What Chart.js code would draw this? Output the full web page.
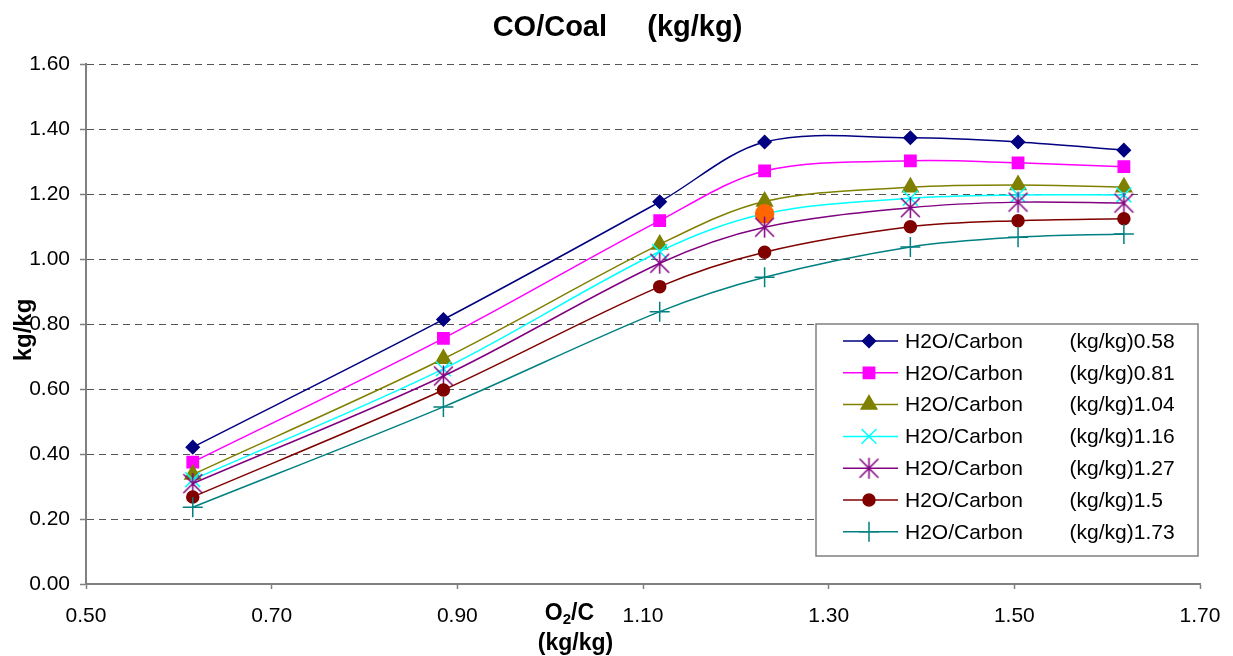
<!DOCTYPE html>
<html>
<head>
<meta charset="utf-8">
<script src="https://cdn.jsdelivr.net/npm/chart.js@4.4.0/dist/chart.umd.min.js"></script>
<style>
  html, body { margin: 0; padding: 0; background: #fff; }
</style>
</head>
<body>
<canvas id="coCoalChart" width="1233" height="656"></canvas>
<script>
// O2/C values (x axis)
const o2c = [0.615, 0.885, 1.118, 1.231, 1.388, 1.504, 1.618];

// CO/Coal for each H2O/Carbon ratio
const h2o058 = [0.421, 0.814, 1.176, 1.360, 1.373, 1.360, 1.335];
const h2o081 = [0.375, 0.756, 1.118, 1.271, 1.302, 1.296, 1.284];
const h2o104 = [0.337, 0.693, 1.045, 1.177, 1.221, 1.228, 1.221];
const h2o116 = [0.321, 0.662, 1.023, 1.139, 1.187, 1.197, 1.197];
const h2o127 = [0.309, 0.640, 0.987, 1.098, 1.158, 1.175, 1.172];
const h2o150 = [0.268, 0.597, 0.915, 1.021, 1.099, 1.118, 1.124];
const h2o173 = [0.236, 0.545, 0.838, 0.944, 1.037, 1.067, 1.077];

const seriesLabels = [
  'H2O/Carbon        (kg/kg)0.58',
  'H2O/Carbon        (kg/kg)0.81',
  'H2O/Carbon        (kg/kg)1.04',
  'H2O/Carbon        (kg/kg)1.16',
  'H2O/Carbon        (kg/kg)1.27',
  'H2O/Carbon        (kg/kg)1.5',
  'H2O/Carbon        (kg/kg)1.73'
];
const chartTitle = 'CO/Coal     (kg/kg)';
const yTitle = 'kg/kg';

const FONT = "'Liberation Sans', Arial, sans-serif";

// excel style asterisk marker (X plus a vertical bar)
function asterisk(color, r) {
  const c = document.createElement('canvas');
  const s = Math.ceil(r * 2 + 4);
  c.width = c.height = s;
  const g = c.getContext('2d');
  const m = s / 2, d = r * 0.9;
  g.strokeStyle = color;
  g.lineWidth = 1.5;
  g.beginPath();
  g.moveTo(m - d, m - d); g.lineTo(m + d, m + d);
  g.moveTo(m + d, m - d); g.lineTo(m - d, m + d);
  g.moveTo(m, m - r); g.lineTo(m, m + r);
  g.stroke();
  return c;
}

const starImg = asterisk('#800080', 10.5);

const series = [
  { data: h2o058, color: '#000080', style: 'rectRot', radius: 6.5 },
  { data: h2o081, color: '#FF00FF', style: 'rect', radius: 8 },
  { data: h2o104, color: '#808000', style: 'triangle', radius: 9 },
  { data: h2o116, color: '#00FFFF', style: 'crossRot', radius: 10.5 },
  { data: h2o127, color: '#800080', style: starImg, radius: 10 },
  { data: h2o150, color: '#800000', style: 'circle', radius: 6 },
  { data: h2o173, color: '#008080', style: 'cross', radius: 10 }
];

// one highlighted point in the 1.16 series
const highlightSeries = 3, highlightIndex = 3, highlightColor = '#FF6600';

const datasets = series.map((s, i) => {
  const n = s.data.length;
  const isHi = k => i === highlightSeries && k === highlightIndex;
  return {
    label: seriesLabels[i],
    data: s.data.map((v, k) => ({ x: o2c[k], y: v })),
    borderColor: s.color,
    backgroundColor: s.color,
    borderWidth: 1.5,
    tension: 0.33,
    order: series.length - i,
    pointStyle: Array.from({ length: n }, (_, k) => isHi(k) ? 'circle' : s.style),
    pointRadius: Array.from({ length: n }, (_, k) => isHi(k) ? 9 : s.radius),
    pointBackgroundColor: Array.from({ length: n }, (_, k) => isHi(k) ? highlightColor : s.color),
    pointBorderColor: Array.from({ length: n }, (_, k) => isHi(k) ? highlightColor : s.color),
    pointBorderWidth: 1.5
  };
});

const decorPlugin = {
  id: 'decor',
  afterDraw(chart) {
    const { ctx, chartArea: ca } = chart;
    ctx.save();
    ctx.fillStyle = '#000';
    ctx.textAlign = 'center';
    ctx.textBaseline = 'middle';

    // title
    ctx.font = 'bold 29px ' + FONT;
    ctx.fillText(chartTitle, chart.width / 2 + 1, 28);

    // y title
    ctx.save();
    ctx.translate(24, (ca.top + ca.bottom) / 2 + 6);
    ctx.rotate(-Math.PI / 2);
    ctx.font = 'bold 24px ' + FONT;
    ctx.fillText(yTitle, 0, 0);
    ctx.restore();

    // x title: O2/C with subscript, then (kg/kg)
    const cx = ca.left + (ca.right - ca.left) * 0.434;
    ctx.textAlign = 'left';
    ctx.textBaseline = 'alphabetic';
    ctx.font = 'bold 23px ' + FONT;
    const wO = ctx.measureText('O').width;
    const wC = ctx.measureText('/C').width;
    ctx.font = 'bold 15px ' + FONT;
    const w2 = ctx.measureText('2').width;
    let x0 = cx - (wO + w2 + wC) / 2;
    const base = ca.bottom + 36;
    ctx.font = 'bold 23px ' + FONT;
    ctx.fillText('O', x0, base);
    ctx.font = 'bold 15px ' + FONT;
    ctx.fillText('2', x0 + wO, base + 4);
    ctx.font = 'bold 23px ' + FONT;
    ctx.fillText('/C', x0 + wO + w2, base);
    ctx.textAlign = 'center';
    ctx.textBaseline = 'middle';
    ctx.fillText('(kg/kg)', cx + 6, ca.bottom + 60);

    // legend box
    const top = chart.scales.y.getPixelForValue(0.8);
    const right = ca.right - 2, left = right - 382, bottom = top + 232;
    ctx.fillStyle = '#fff';
    ctx.fillRect(left, top, right - left, bottom - top);
    ctx.strokeStyle = '#808080';
    ctx.lineWidth = 1.5;
    ctx.strokeRect(left, top, right - left, bottom - top);

    ctx.font = '21px ' + FONT;
    ctx.textAlign = 'left';
    series.forEach((s, i) => {
      const y = top + 17 + i * 31.8;
      ctx.strokeStyle = s.color;
      ctx.fillStyle = s.color;
      ctx.lineWidth = 1.5;
      ctx.beginPath();
      ctx.moveTo(left + 27, y);
      ctx.lineTo(left + 82, y);
      ctx.stroke();
      Chart.helpers.drawPoint(ctx, {
        pointStyle: s.style, radius: s.radius, rotation: 0, borderWidth: 1.5
      }, left + 53, y);
      ctx.fillStyle = '#000';
      ctx.fillText(seriesLabels[i], left + 89, y + 1);
    });
    ctx.restore();
  }
};

const ctx = document.getElementById('coCoalChart');
Chart.defaults.font.family = FONT;
Chart.defaults.font.size = 21;
Chart.defaults.color = '#000';

new Chart(ctx, {
  type: 'line',
  data: { datasets },
  options: {
    responsive: false,
    animation: false,
    devicePixelRatio: 1,
    layout: { padding: { top: 64, right: 33, left: 0, bottom: 0 } },
    plugins: {
      legend: { display: false },
      title: { display: false },
      tooltip: { enabled: false }
    },
    scales: {
      x: {
        type: 'linear',
        min: 0.5,
        max: 1.7,
        afterFit: s => { s.height = 72; s.paddingRight = 21; s.paddingLeft = 21; },
        border: { color: '#808080', width: 2 },
        grid: {
          drawOnChartArea: false,
          tickLength: 5,
          tickColor: '#808080',
          tickWidth: 1.5
        },
        ticks: {
          stepSize: 0.2,
          padding: 15,
          maxRotation: 0,
          callback: v => v.toFixed(2)
        }
      },
      y: {
        min: 0,
        max: 1.6,
        afterFit: s => { s.width = 86; },
        border: { color: '#808080', width: 2, dash: [7, 5] },
        grid: {
          color: '#555',
          lineWidth: 1,
          tickLength: 6,
          tickColor: '#808080',
          tickWidth: 1.5,
          tickBorderDash: []
        },
        ticks: {
          stepSize: 0.2,
          padding: 10,
          callback: v => v.toFixed(2)
        }
      }
    }
  },
  plugins: [decorPlugin]
});
</script>
</body>
</html>
